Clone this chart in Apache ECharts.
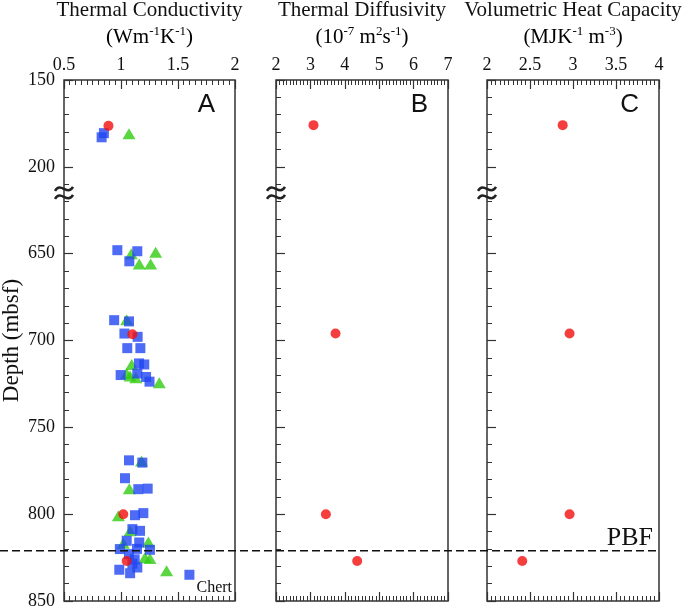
<!DOCTYPE html>
<html><head><meta charset="utf-8">
<script src="https://cdn.jsdelivr.net/npm/echarts@6/dist/echarts.min.js"></script>
<style>html,body{margin:0;padding:0;background:#fff}#c{width:685px;height:606px}</style>
</head><body><div id="c"></div>
<script>
// ---------- DATA ----------
// depth axis (mbsf) with a break between 200 and 600
const depthTickLabels = [150, 200, 650, 700, 750, 800, 850];
const BREAK_FROM = 200, BREAK_TO = 600;
const PBF_DEPTH = 821;

// Panel A: thermal conductivity [value (W/mK), depth (mbsf)]
const condSquares = [
  [0.85,180.6],[0.83,183],[0.968,648],[1.143,648.6],[1.073,654.4],
  [0.94,688.3],[1.07,689],[1.03,696],[1.146,697.9],[1.055,704.4],[1.17,704.4],
  [1.158,713.2],[1.204,713.8],[0.997,719.9],[1.143,719],[1.22,721],[1.25,723.7],
  [1.07,769],[1.187,770.3],[1.035,779.3],[1.152,785.6],[1.234,785.3],
  [1.123,800.6],[1.196,799.4],[1.10,808.6],[1.167,809.6],[1.05,815.3],[1.16,816.3],
  [0.99,820.1],[1.254,820.5],[1.07,823],[1.14,820],[1.12,826],[1.10,828.5],
  [0.985,832],[1.08,834],[1.143,830.7],[1.60,834.9]
];
const condTriangles = [
  [1.07,181],[1.09,650],[1.304,649.2],[1.16,656],[1.26,656],[1.05,688],
  [1.094,713.8],[1.05,719],[1.08,720.5],[1.13,721.5],[1.336,724.3],[1.18,769.4],
  [1.073,785.3],[0.977,800.9],[1.08,809.6],[1.24,816],[1.02,816.7],
  [1.21,825],[1.254,825.5],[1.40,832.6]
];
const condCircles = [[0.89,176.4],[1.10,696.4],[1.02,800],[1.05,827]];
// Panel B: thermal diffusivity (1e-7 m2/s)
const diffusivity = [[3.09,176],[3.73,696],[3.45,800],[4.36,827]];
// Panel C: volumetric heat capacity (MJ/K/m3)
const heatCapacity = [[2.88,176],[2.96,696],[2.96,800],[2.41,827]];

const panelTitles = ['Thermal Conductivity','Thermal Diffusivity','Volumetric Heat Capacity'];
const panelUnits = ['{a|(Wm}{s|-1}{a|K}{s|-1}{a|)}','{a|(10}{s|-7}{a| m}{s|2}{a|s}{s|-1}{a|)}','{a|(MJK}{s|-1}{a| m}{s|-3}{a|)}'];
const panelLetters = ['A','B','C'];
const xRanges = [
  {min:0.5, max:2, interval:0.5},
  {min:2, max:7, interval:1},
  {min:2, max:4, interval:0.5}
];

// ---------- LAYOUT ----------
const serif = '"Liberation Serif","Times New Roman",serif';
const sans = '"Liberation Sans",Arial,sans-serif';
const G = [{left:64,width:171},{left:276,width:172},{left:487,width:172}];
const TOP = 80, HEIGHT = 521;
const BLUE = '#2146f2', GREEN = '#30cc10', RED = '#f20f0f';

function toAxis(d){ return d <= BREAK_FROM ? d : d - (BREAK_TO - BREAK_FROM); }
function depthLabel(v){
  if (v <= BREAK_FROM) return String(v);
  if (v >= toAxis(depthTickLabels[2])) return String(v + (BREAK_TO - BREAK_FROM));
  return '';
}
function pts(arr){ return arr.map(p => [p[0], toAxis(p[1])]); }

const chart = echarts.init(document.getElementById('c'), null, {renderer:'canvas'});

const grids = G.map(g => ({left:g.left, top:TOP, width:g.width, height:HEIGHT, show:true,
  borderColor:'#333', borderWidth:1.5, backgroundColor:'rgba(0,0,0,0)', containLabel:false, outerBoundsMode:'none'}));

const tickStyle = {color:'#333', width:1.2};
const xAxes = [];
G.forEach((g,i) => {
  ['top','bottom'].forEach(pos => {
    xAxes.push({type:'value', gridIndex:i, position:pos, min:xRanges[i].min, max:xRanges[i].max, interval:xRanges[i].interval,
      axisLine:{show:false}, splitLine:{show:false},
      axisTick:{show:true, inside:true, length:9, lineStyle:tickStyle},
      minorTick:{show:true, splitNumber:10, length:5, lineStyle:{color:'#333', width:1}},
      axisLabel:{show:pos==='top', margin:6, fontSize:18, fontFamily:serif, color:'#111', showMinLabel:true, showMaxLabel:true}
    });
  });
});
const yAxes = G.map((g,i) => ({type:'value', gridIndex:i, inverse:true, min:150, max:450, interval:50,
  axisLine:{show:false}, splitLine:{show:false},
  axisTick:{show:true, inside:true, length:9, lineStyle:tickStyle},
  minorTick:{show:true, splitNumber:5, length:5, lineStyle:{color:'#333', width:1}},
  axisLabel:{show:i===0, margin:9, fontSize:18, fontFamily:serif, color:'#111', formatter:depthLabel, showMinLabel:true, showMaxLabel:true},
  name: i===0 ? 'Depth (mbsf)' : '', nameLocation:'middle', nameGap:41,
  nameTextStyle:{fontSize:23, fontFamily:serif, color:'#111'}
}));

const series = [
  {type:'scatter', xAxisIndex:0, yAxisIndex:0, symbol:'triangle', symbolSize:[13,11], itemStyle:{color:GREEN}, data:pts(condTriangles), z:2},
  {type:'scatter', xAxisIndex:0, yAxisIndex:0, symbol:'rect', symbolSize:10, itemStyle:{color:BLUE}, data:pts(condSquares), z:3},
  {type:'scatter', xAxisIndex:0, yAxisIndex:0, symbol:'circle', symbolSize:10, itemStyle:{color:RED}, data:pts(condCircles), z:4},
  {type:'scatter', xAxisIndex:2, yAxisIndex:1, symbol:'circle', symbolSize:10, itemStyle:{color:RED}, data:pts(diffusivity), z:4},
  {type:'scatter', xAxisIndex:4, yAxisIndex:2, symbol:'circle', symbolSize:10, itemStyle:{color:RED}, data:pts(heatCapacity), z:4}
];

chart.setOption({animation:false, backgroundColor:'#fff', grid:grids, xAxis:xAxes, yAxis:yAxes, series:series});

// ---------- DECORATIONS ----------
const yPBF = chart.convertToPixel({yAxisIndex:0}, toAxis(PBF_DEPTH));
const yBreak = chart.convertToPixel({yAxisIndex:0}, 215);
const graphics = [];
G.forEach((g,i) => {
  const cx = g.left + g.width/2;
  graphics.push({type:'text', x:cx, y:10, z:10, style:{text:panelTitles[i], font:'21px '+serif, fill:'#111', textAlign:'center', textVerticalAlign:'middle'}});
  graphics.push({type:'text', x:cx, y:37, z:10, style:{text:panelUnits[i], textAlign:'center', textVerticalAlign:'middle',
    rich:{a:{fontSize:21, fontFamily:serif, color:'#111', lineHeight:24}, s:{fontSize:13, fontFamily:serif, color:'#111', lineHeight:14, verticalAlign:'top'}}}});
  graphics.push({type:'text', x:g.left+g.width-20, y:105, z:10, style:{text:panelLetters[i], font:'26px '+sans, fill:'#111', textAlign:'right', textVerticalAlign:'middle'}});
  [-4,4].forEach(off => {
    graphics.push({type:'bezierCurve', z:20, shape:{x1:g.left-9, y1:yBreak+off+2, cpx1:g.left-3, cpy1:yBreak+off-8, cpx2:g.left+3, cpy2:yBreak+off+8, x2:g.left+9, y2:yBreak+off-2},
      style:{stroke:'#222', lineWidth:2.5, fill:null}});
  });
});
graphics.push({type:'line', z:15, shape:{x1:0, y1:yPBF, x2:G[2].left+G[2].width, y2:yPBF}, style:{stroke:'#111', lineWidth:1.5, lineDash:[8,4]}});
graphics.push({type:'text', x:G[2].left+G[2].width-6, y:yPBF-12, z:10, style:{text:'PBF', font:'26px '+serif, fill:'#111', textAlign:'right', textVerticalAlign:'middle'}});
graphics.push({type:'text', x:G[0].left+G[0].width-3, y:588, z:10, style:{text:'Chert', font:'16px '+serif, fill:'#111', textAlign:'right', textVerticalAlign:'middle'}});
chart.setOption({graphic:graphics});
</script></body></html>
